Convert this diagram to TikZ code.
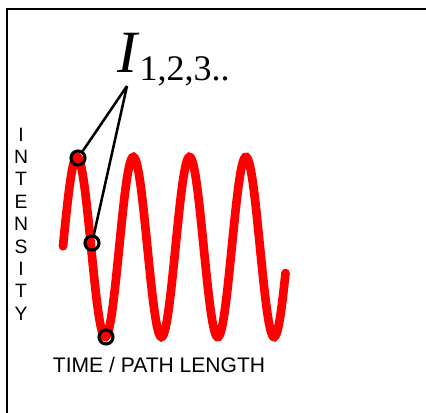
\documentclass[tikz,border=0pt]{standalone}
\usepackage{fontspec}
\setmainfont{Liberation Serif}
\setsansfont{Liberation Sans}
\usepackage{tikz}
\usepackage{xcolor}
\usetikzlibrary{positioning}
\definecolor{waveRed}{HTML}{FF0000}

\begin{document}
\begin{tikzpicture}[
        x=0.75pt, y=-0.75pt,
        frame/.style={
          draw=black,
          line width=1.6pt
        },
        wave/.style={
          waveRed,
          line width=6.5pt,
          line cap=round
        },
        marker/.style={
          circle,
          draw=black,
          line width=2.3pt,
          minimum size=10.5pt,
          inner sep=0pt
        },
        pointer/.style={
          line width=1.9pt,
          black
        },
        axislabel/.style={
          font=\sffamily\fontsize{15.8}{16.8}\selectfont,
          inner sep=0pt
        }
      ]

      \clip (0,0) rectangle (426,412);
      \draw[frame] (7,9) rectangle (440,430);

      % signal
      \draw[wave] plot[domain=63:285.5, samples=200, smooth]
        (\x, {247-90*cos(6.3943*(\x-77))});

      % sampled intensities
      \node[marker] (c1) at (78,158) {};
      \node[marker] (c2) at (92,243) {};
      \node[marker] (c3) at (106,337) {};

      \node[anchor=base west, inner sep=0pt] (ilabel) at (117,72)
        {\fontsize{45}{45}\selectfont\itshape I\/\upshape\lower 6pt\hbox{\fontsize{27}{27}\selectfont 1,2,3..}};
      \coordinate (apex) at (127,86);

      \draw[pointer] (apex) -- (c1);
      \draw[pointer] (apex) -- (c2);

      % axes
      \node[axislabel, font=\sffamily\fontsize{14.5}{16.8}\selectfont, align=center] (ylabel) at (21,224)
        {I\\N\\T\\E\\N\\S\\I\\T\\Y};
      \node[axislabel, anchor=base] (xlabel) at (159,372) {TIME / PATH LENGTH};

      \end{tikzpicture}
\end{document}
